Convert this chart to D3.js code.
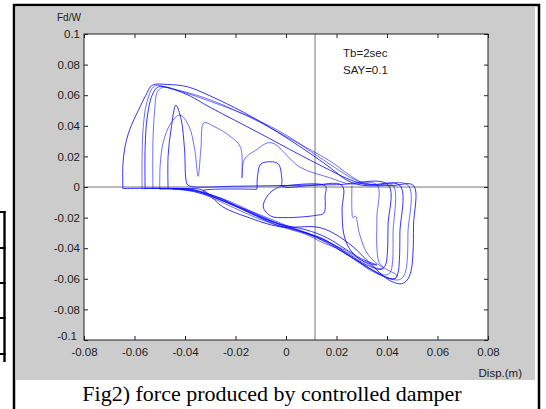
<!DOCTYPE html>
<html>
<head>
<meta charset="utf-8">
<script src="https://cdn.jsdelivr.net/npm/d3@7"></script>
<style>
  body { margin: 0; background: #fff; }
  svg { display: block; }
</style>
</head>
<body>
<script>
// Tick values
const xTicks = [-0.08, -0.06, -0.04, -0.02, 0, 0.02, 0.04, 0.06, 0.08];
const yTicks = [-0.1, -0.08, -0.06, -0.04, -0.02, 0, 0.02, 0.04, 0.06, 0.08, 0.1];

// Displacement where the vertical reference line sits
const xRef = 0.0115;

// Hysteresis loops [disp (m), Fd/W]
const cycleA = [[-0.0646,-0.001],[-0.0646,0.014],[-0.0638,0.026],[-0.0618,0.038],[-0.0585,0.05],[-0.0555,0.06],[-0.053,0.0665],[-0.047,0.067],[-0.039,0.0655],[-0.03,0.0595],[-0.017,0.049],[-0.0035,0.036],[0.0095,0.022],[0.018,0.012],[0.024,0.0045],[0.03,0.0012],[0.042,0.001],[0.0505,0.001],[0.0505,-0.025],[0.0503,-0.043],[0.0495,-0.055],[0.048,-0.0608],[0.0458,-0.0632],[0.043,-0.0625],[0.04,-0.06],[0.0333,-0.05],[0.0265,-0.039],[0.0186,-0.03],[0.0123,-0.0262],[-0.0024,-0.026],[-0.0154,-0.0196],[-0.025,-0.013],[-0.033,-0.002],[-0.04,-0.001],[-0.0646,-0.001]];
const cycleB = [[-0.057,-0.001],[-0.057,0.02],[-0.0565,0.04],[-0.055,0.056],[-0.052,0.066],[-0.045,0.064],[-0.03,0.056],[-0.013,0.045],[0,0.034],[0.01,0.023],[0.02,0.012],[0.027,0.005],[0.034,0.0015],[0.0483,0.0012],[0.0483,-0.03],[0.048,-0.048],[0.0472,-0.056],[0.0458,-0.0598],[0.0438,-0.0608],[0.038,-0.058],[0.03,-0.05],[0.022,-0.042],[0.015,-0.034],[0.008,-0.03],[0,-0.026],[-0.01,-0.019],[-0.02,-0.011],[-0.03,-0.005],[-0.04,-0.0015],[-0.057,-0.001]];
const cycleC = [[-0.0558,-0.001],[-0.0558,0.025],[-0.055,0.045],[-0.053,0.06],[-0.0505,0.0655],[-0.04,0.061],[-0.03,0.052],[-0.0103,0.035],[0.0044,0.022],[0.015,0.013],[0.025,0.005],[0.032,0.0015],[0.0451,0.001],[0.0451,-0.03],[0.0449,-0.048],[0.0443,-0.0565],[0.0432,-0.0598],[0.0415,-0.06],[0.036,-0.056],[0.029,-0.049],[0.02,-0.04],[0.012,-0.033],[0.002,-0.027],[-0.01,-0.02],[-0.025,-0.009],[-0.035,-0.003],[-0.045,-0.0012],[-0.0558,-0.001]];
const cycleD = [[-0.0527,-0.001],[-0.0527,0.03],[-0.052,0.05],[-0.051,0.062],[-0.049,0.065],[-0.042,0.063],[-0.03,0.057],[-0.02,0.05],[-0.01,0.042],[0,0.033],[0.01,0.024],[0.0174,0.017],[0.025,0.008],[0.03,0.003],[0.036,0.0012],[0.0424,0.001],[0.0424,-0.03],[0.0422,-0.049],[0.0414,-0.0555],[0.0398,-0.0575],[0.034,-0.054],[0.026,-0.046],[0.018,-0.037],[0.01,-0.031],[0,-0.025],[-0.012,-0.017],[-0.022,-0.011],[-0.032,-0.005],[-0.042,-0.0015],[-0.0527,-0.001]];
const cycleE = [[-0.0467,-0.001],[-0.0467,0.02],[-0.0455,0.038],[-0.0436,0.0535],[-0.0415,0.044],[-0.0402,0.025],[-0.0392,0.002],[-0.038,0.0005],[-0.02,0.0005],[0,0.001],[0.02,0.0015],[0.0404,0.0015],[0.0404,-0.025],[0.0401,-0.044],[0.0394,-0.051],[0.0378,-0.0538],[0.032,-0.051],[0.025,-0.044],[0.017,-0.036],[0.008,-0.03],[-0.005,-0.024],[-0.018,-0.014],[-0.028,-0.007],[-0.036,-0.002],[-0.0467,-0.001]];
const cycleF = [[-0.05,-0.0015],[-0.0498,0.015],[-0.0485,0.03],[-0.0455,0.042],[-0.042,0.047],[-0.0385,0.04],[-0.0362,0.025],[-0.0348,0.007],[-0.0337,0.025],[-0.0325,0.042],[-0.029,0.04],[-0.022,0.033],[-0.018,0.026],[-0.0174,0.006],[-0.0165,0.018],[-0.012,0.024],[-0.006,0.029],[0.0055,0.013],[0.0174,0.006],[0.025,0.002],[0.036,0.0015],[0.036,-0.02],[0.036,-0.04],[0.0368,-0.049],[0.0385,-0.053],[0.036,-0.053],[0.03,-0.048],[0.023,-0.041],[0.015,-0.035],[0.006,-0.029],[-0.006,-0.022],[-0.02,-0.012],[-0.03,-0.005],[-0.038,-0.0015],[-0.05,-0.0015]];
const cycleG = [[-0.0115,-0.0015],[-0.0112,0.008],[-0.01,0.015],[-0.0063,0.0165],[-0.003,0.015],[-0.0016,0.005],[-0.0014,0.0005],[0.01,0.001],[0.0222,0.001],[0.0222,-0.015],[0.0228,-0.03],[0.025,-0.04],[0.029,-0.047],[0.033,-0.05],[0.036,-0.051],[0.03,-0.047],[0.023,-0.04],[0.016,-0.033],[0.008,-0.028],[-0.003,-0.024],[-0.015,-0.016],[-0.025,-0.008],[-0.033,-0.0025],[-0.0115,-0.0015]];
const cycleH = [[0.0261,0.001],[0.0261,-0.015],[0.0265,-0.02],[0.0275,-0.019],[0.029,-0.03],[0.032,-0.043],[0.036,-0.05],[0.04,-0.054],[0.044,-0.058],[0.043,-0.06],[0.038,-0.058],[0.032,-0.053],[0.026,-0.046],[0.02,-0.04],[0.014,-0.036],[0.008,-0.031],[0,-0.027],[-0.012,-0.02],[-0.024,-0.011],[-0.036,-0.003],[-0.045,-0.0015]];
const cycleI = [[-0.0016,0.0005],[0.0155,0.0008],[0.0155,-0.006],[0.015,-0.017],[0.012,-0.0185],[0,-0.02],[-0.006,-0.019],[-0.009,-0.013],[-0.007,-0.005],[-0.004,-0.001],[-0.0016,0.0005]];

const cycles = [cycleA, cycleB, cycleC, cycleD, cycleE, cycleF, cycleG, cycleH, cycleI];

const width = 546;
const height = 409;
const plot = { left: 84, right: 488, top: 34, bottom: 340 };
const fmt = (d) => String(+d.toFixed(2));

const svg = d3
  .select("body")
  .append("svg")
  .attr("width", width)
  .attr("height", height);

// Figure background and frame
svg.append("rect").attr("x", 16).attr("y", 7).attr("width", 519).attr("height", 373).attr("fill", "#cccccc");
svg.append("line").attr("x1", 14).attr("x2", 14).attr("y1", 4).attr("y2", height).attr("stroke", "#000").attr("stroke-width", 2.5);
svg.append("line").attr("x1", 539).attr("x2", 539).attr("y1", 4).attr("y2", height).attr("stroke", "#000").attr("stroke-width", 2.5);
svg.append("line").attr("x1", 13).attr("x2", 540).attr("y1", 5).attr("y2", 5).attr("stroke", "#000").attr("stroke-width", 2.5);

// Table fragment on the far left
svg.append("line").attr("x1", 4.5).attr("x2", 4.5).attr("y1", 211).attr("y2", 362).attr("stroke", "#000").attr("stroke-width", 2.4);
[212, 248, 283, 318, 354].forEach((yy) => {
  svg.append("line").attr("x1", 0).attr("x2", 5.5).attr("y1", yy).attr("y2", yy).attr("stroke", "#000").attr("stroke-width", 2);
});

// Scales
const xScale = d3.scaleLinear().domain([-0.08, 0.08]).range([plot.left, plot.right]);
const yScale = d3.scaleLinear().domain([-0.1, 0.1]).range([plot.bottom, plot.top]);

// Plot area
svg.append("rect")
  .attr("x", plot.left).attr("y", plot.top)
  .attr("width", plot.right - plot.left).attr("height", plot.bottom - plot.top)
  .attr("fill", "#fff");

svg.append("clipPath").attr("id", "clip").append("rect")
  .attr("x", plot.left).attr("y", plot.top)
  .attr("width", plot.right - plot.left).attr("height", plot.bottom - plot.top);

// Reference lines
svg.append("line")
  .attr("x1", plot.left).attr("x2", plot.right)
  .attr("y1", yScale(0)).attr("y2", yScale(0))
  .attr("stroke", "#777").attr("stroke-width", 1);
svg.append("line")
  .attr("x1", xScale(xRef)).attr("x2", xScale(xRef))
  .attr("y1", plot.top).attr("y2", plot.bottom)
  .attr("stroke", "#777").attr("stroke-width", 1);

// Loops
const line = d3.line()
  .x((d) => xScale(d[0]))
  .y((d) => yScale(d[1]))
  .curve(d3.curveCatmullRom.alpha(0.5));

svg.append("g").attr("clip-path", "url(#clip)")
  .selectAll("path")
  .data(cycles)
  .join("path")
  .attr("d", line)
  .attr("fill", "none")
  .attr("stroke", "#1010ff")
  .attr("stroke-opacity", (d, i) => (i % 2 ? 0.6 : 0.85))
  .attr("stroke-width", 1);

// Axes (MATLAB style inward ticks)
const tickFont = (g) => g.selectAll("text")
  .attr("font-family", "'Liberation Sans', Arial, sans-serif")
  .attr("font-size", "11.5px")
  .attr("fill", "#222");

svg.append("g")
  .attr("transform", `translate(0, ${plot.bottom})`)
  .call(d3.axisBottom(xScale).tickValues(xTicks).tickSize(-4).tickPadding(8).tickFormat(fmt))
  .call((g) => g.select(".domain").remove())
  .call(tickFont);

svg.append("g")
  .attr("transform", `translate(0, ${plot.top})`)
  .call(d3.axisTop(xScale).tickValues(xTicks).tickSize(-4).tickFormat(""))
  .call((g) => g.select(".domain").remove());

svg.append("g")
  .attr("transform", `translate(${plot.left}, 0)`)
  .call(d3.axisLeft(yScale).tickValues(yTicks).tickSize(-4).tickPadding(4).tickFormat(fmt))
  .call((g) => g.select(".domain").remove())
  .call(tickFont)
  .call((g) => g.selectAll(".tick").filter((d) => d === -0.1).select("text").attr("dx", -3).attr("dy", "-0.05em"));

svg.append("g")
  .attr("transform", `translate(${plot.right}, 0)`)
  .call(d3.axisRight(yScale).tickValues(yTicks).tickSize(-4).tickFormat(""))
  .call((g) => g.select(".domain").remove());

svg.selectAll(".tick line").attr("stroke", "#222");

svg.append("rect")
  .attr("x", plot.left).attr("y", plot.top)
  .attr("width", plot.right - plot.left).attr("height", plot.bottom - plot.top)
  .attr("fill", "none").attr("stroke", "#222").attr("stroke-width", 1);

// Axis labels and annotation
const sans = "'Liberation Sans', Arial, sans-serif";
svg.append("text").attr("x", 57).attr("y", 21)
  .attr("font-family", sans).attr("font-size", "10px").attr("fill", "#222")
  .text("Fd/W");
svg.append("text").attr("x", 522).attr("y", 377).attr("text-anchor", "end")
  .attr("font-family", sans).attr("font-size", "11.5px").attr("fill", "#222")
  .text("Disp.(m)");
svg.append("text").attr("x", 343).attr("y", 57)
  .attr("font-family", sans).attr("font-size", "11.5px").attr("fill", "#222")
  .text("Tb=2sec");
svg.append("text").attr("x", 343).attr("y", 74)
  .attr("font-family", sans).attr("font-size", "11.5px").attr("fill", "#222")
  .text("SAY=0.1");

// Caption
svg.append("text").attr("x", 272).attr("y", 401).attr("text-anchor", "middle")
  .attr("font-family", "'Liberation Serif', 'Times New Roman', serif")
  .attr("font-size", "22px").attr("fill", "#000")
  .text("Fig2) force produced by controlled damper");
</script>
</body>
</html>
